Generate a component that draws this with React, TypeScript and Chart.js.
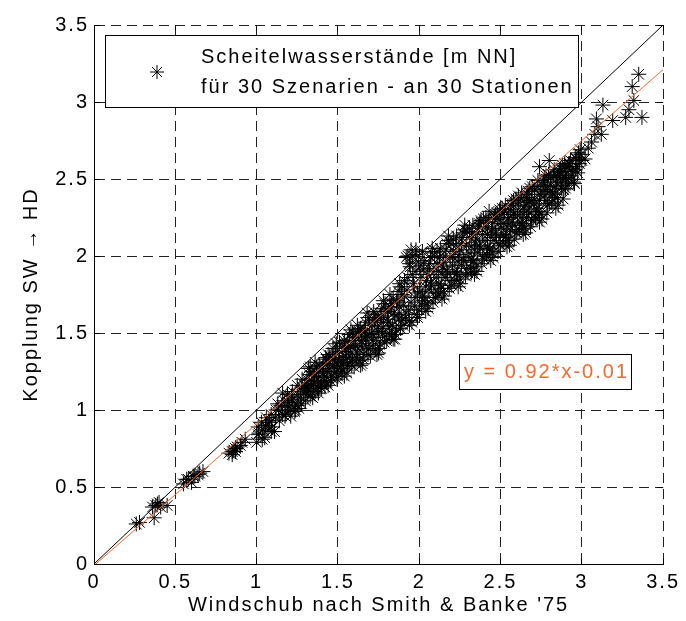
import React, { useEffect, useRef } from 'react';
import { Chart, registerables } from 'chart.js';

Chart.register(...registerables);

const FONT = '"Liberation Sans", Arial, Helvetica, sans-serif';
const ORANGE = '#f26a30';

// x: Windschub nach Smith & Banke '75, y: Kopplung SW -> HD
const windschub = [
  0.26, 0.28, 0.36, 0.37, 0.38, 0.39, 0.40, 0.41, 0.45,
  0.55, 0.57, 0.58, 0.60, 0.61, 0.62, 0.64, 0.65, 0.67,
  0.83, 0.85, 0.85, 0.86, 0.87, 0.87, 0.88, 0.90, 0.91, 0.93,
  1.00, 1.01, 1.01, 1.03, 1.04, 1.05, 1.06, 1.07, 1.08, 1.09, 1.09,
  1.11, 1.12, 1.13, 1.14, 1.16, 1.16, 1.17, 1.18, 1.19, 1.19,
  1.20, 1.21, 1.22, 1.23, 1.24, 1.25, 1.26, 1.27, 1.28, 1.28, 1.29, 1.22, 1.25,
  1.015, 1.035, 1.055, 1.075, 1.095, 1.115, 1.135, 1.155, 1.175, 1.195, 1.215, 1.235, 1.255, 1.275, 1.295,
  1.30, 1.31, 1.32, 1.33, 1.34, 1.35, 1.36, 1.37, 1.38, 1.39, 1.31, 1.34, 1.37, 1.33, 1.36, 1.39,
  1.305, 1.315, 1.325, 1.335, 1.345, 1.355, 1.365, 1.375, 1.385, 1.395, 1.32, 1.38,
  1.40, 1.41, 1.42, 1.43, 1.44, 1.45, 1.46, 1.47, 1.48, 1.49, 1.41, 1.43, 1.45, 1.47, 1.49, 1.44,
  1.405, 1.415, 1.425, 1.435, 1.445, 1.455, 1.465, 1.475, 1.485, 1.495, 1.42, 1.48,
  1.50, 1.51, 1.52, 1.53, 1.54, 1.55, 1.56, 1.57, 1.58, 1.59, 1.51, 1.53, 1.55, 1.57, 1.59, 1.52, 1.56,
  1.505, 1.515, 1.525, 1.535, 1.545, 1.555, 1.565, 1.575, 1.585, 1.595, 1.54, 1.58,
  1.60, 1.61, 1.62, 1.63, 1.64, 1.65, 1.66, 1.67, 1.68, 1.69, 1.61, 1.63, 1.65, 1.67, 1.69, 1.62, 1.66,
  1.605, 1.615, 1.625, 1.635, 1.645, 1.655, 1.665, 1.675, 1.685, 1.695, 1.64, 1.68,
  1.70, 1.71, 1.72, 1.73, 1.74, 1.75, 1.76, 1.77, 1.78, 1.79, 1.71, 1.73, 1.75, 1.77, 1.79, 1.72, 1.76,
  1.705, 1.715, 1.725, 1.735, 1.745, 1.755, 1.765, 1.775, 1.785, 1.795, 1.74, 1.78,
  1.80, 1.81, 1.82, 1.83, 1.84, 1.85, 1.86, 1.87, 1.88, 1.89, 1.81, 1.83, 1.85, 1.87, 1.89, 1.82, 1.86,
  1.805, 1.815, 1.825, 1.835, 1.845, 1.855, 1.865, 1.875, 1.885, 1.895, 1.84, 1.88,
  1.90, 1.91, 1.92, 1.93, 1.94, 1.95, 1.96, 1.97, 1.98, 1.99, 1.91, 1.93, 1.95, 1.97, 1.99, 1.92, 1.96, 1.94, 1.98,
  1.905, 1.915, 1.925, 1.935, 1.945, 1.955, 1.965, 1.975, 1.985, 1.995, 1.94, 1.98,
  2.00, 2.01, 2.02, 2.03, 2.04, 2.05, 2.06, 2.07, 2.08, 2.09, 2.01, 2.03, 2.05, 2.07, 2.09, 2.02, 2.06,
  2.005, 2.015, 2.025, 2.035, 2.045, 2.055, 2.065, 2.075, 2.085, 2.095, 2.04, 2.08,
  2.10, 2.11, 2.12, 2.13, 2.14, 2.15, 2.16, 2.17, 2.18, 2.19, 2.11, 2.13, 2.15, 2.17, 2.19, 2.12, 2.16,
  2.105, 2.115, 2.125, 2.135, 2.145, 2.155, 2.165, 2.175, 2.185, 2.195, 2.14, 2.18,
  2.20, 2.21, 2.22, 2.23, 2.24, 2.25, 2.26, 2.27, 2.28, 2.29, 2.21, 2.23, 2.25, 2.27, 2.29, 2.22, 2.26,
  2.205, 2.215, 2.225, 2.235, 2.245, 2.255, 2.265, 2.275, 2.285, 2.295, 2.24, 2.28,
  2.30, 2.31, 2.32, 2.33, 2.34, 2.35, 2.36, 2.37, 2.38, 2.39, 2.31, 2.33, 2.35, 2.37, 2.39, 2.32, 2.36, 2.32,
  2.305, 2.315, 2.325, 2.335, 2.345, 2.355, 2.365, 2.375, 2.385, 2.395, 2.34, 2.38,
  2.40, 2.41, 2.42, 2.43, 2.44, 2.45, 2.46, 2.47, 2.48, 2.49, 2.41, 2.43, 2.45, 2.47, 2.49, 2.42, 2.46,
  2.405, 2.415, 2.425, 2.435, 2.445, 2.455, 2.465, 2.475, 2.485, 2.495, 2.44, 2.48,
  2.50, 2.51, 2.52, 2.53, 2.54, 2.55, 2.56, 2.57, 2.58, 2.59, 2.51, 2.53, 2.55, 2.57, 2.59, 2.52, 2.56,
  2.505, 2.515, 2.525, 2.535, 2.545, 2.555, 2.565, 2.575, 2.585, 2.595, 2.54, 2.58,
  2.60, 2.61, 2.62, 2.63, 2.64, 2.65, 2.66, 2.67, 2.68, 2.69, 2.61, 2.63, 2.65, 2.67, 2.69, 2.62, 2.66,
  2.605, 2.615, 2.625, 2.635, 2.645, 2.655, 2.665, 2.675, 2.685, 2.695, 2.64, 2.68,
  2.70, 2.71, 2.72, 2.73, 2.74, 2.75, 2.76, 2.77, 2.78, 2.79, 2.71, 2.73, 2.75, 2.77, 2.79, 2.74, 2.80,
  2.705, 2.715, 2.725, 2.735, 2.745, 2.755, 2.765, 2.775, 2.785, 2.795, 2.74, 2.78,
  2.80, 2.81, 2.82, 2.83, 2.84, 2.85, 2.86, 2.87, 2.88, 2.89, 2.81, 2.83, 2.85, 2.87, 2.89, 2.90,
  2.805, 2.815, 2.825, 2.835, 2.845, 2.855, 2.865, 2.875, 2.885, 2.895, 2.84, 2.88,
  2.90, 2.91, 2.92, 2.93, 2.94, 2.95, 2.96, 2.97, 2.98, 2.99, 2.92, 2.96, 3.00,
  2.905, 2.915, 2.925, 2.935, 2.945, 2.955, 2.965, 2.975, 2.985, 2.995,
  3.02, 3.04, 3.06, 3.08, 3.12, 3.09, 3.13, 3.19, 3.27, 3.29, 3.32, 3.31, 3.35, 3.37, 3.10,
];

const kopplung = [
  0.26, 0.27, 0.37, 0.30, 0.38, 0.39, 0.40, 0.37, 0.38,
  0.52, 0.55, 0.55, 0.53, 0.57, 0.57, 0.58, 0.59, 0.60,
  0.72, 0.73, 0.71, 0.74, 0.75, 0.73, 0.76, 0.77, 0.79, 0.81,
  0.79, 0.89, 0.84, 0.92, 0.87, 0.82, 0.95, 0.87, 0.92, 0.86, 0.97,
  0.86, 1.00, 1.04, 0.93, 1.11, 0.97, 1.06, 0.98, 1.02, 1.10,
  1.02, 0.96, 1.12, 1.05, 1.00, 1.16, 1.01, 1.08, 1.15, 1.20, 1.11, 1.07, 1.03,
  0.85, 0.81, 0.90, 0.93, 0.89, 0.95, 1.00, 1.03, 0.96, 1.05, 1.09, 0.99, 1.10, 1.04, 1.16,
  1.06, 1.20, 1.13, 1.09, 1.25, 1.17, 1.12, 1.28, 1.21, 1.15, 1.15, 1.19, 1.24, 1.28, 1.31, 1.26,
  1.14, 1.10, 1.23, 1.16, 1.08, 1.22, 1.19, 1.14, 1.29, 1.18, 1.27, 1.11,
  1.14, 1.30, 1.22, 1.18, 1.36, 1.27, 1.21, 1.40, 1.32, 1.25, 1.24, 1.33, 1.35, 1.29, 1.43, 1.16,
  1.27, 1.19, 1.34, 1.25, 1.30, 1.19, 1.33, 1.24, 1.37, 1.20, 1.15, 1.28,
  1.22, 1.38, 1.30, 1.26, 1.45, 1.35, 1.29, 1.49, 1.41, 1.33, 1.44, 1.34, 1.40, 1.31, 1.50, 1.24, 1.45,
  1.33, 1.27, 1.41, 1.31, 1.38, 1.24, 1.40, 1.36, 1.29, 1.45, 1.22, 1.52,
  1.28, 1.47, 1.37, 1.32, 1.53, 1.43, 1.36, 1.57, 1.48, 1.40, 1.41, 1.51, 1.30, 1.46, 1.60, 1.55, 1.50,
  1.42, 1.34, 1.50, 1.39, 1.45, 1.33, 1.52, 1.41, 1.36, 1.55, 1.29, 1.63,
  1.35, 1.55, 1.45, 1.39, 1.62, 1.51, 1.43, 1.66, 1.57, 1.48, 1.49, 1.59, 1.37, 1.53, 1.69, 1.64, 1.60,
  1.50, 1.42, 1.58, 1.47, 1.54, 1.40, 1.61, 1.50, 1.44, 1.65, 1.36, 1.71,
  1.45, 1.64, 1.54, 1.48, 1.72, 1.61, 1.52, 1.77, 1.67, 1.58, 1.57, 1.69, 1.46, 1.62, 1.80, 1.75, 1.70,
  1.59, 1.50, 1.67, 1.55, 1.63, 1.49, 1.71, 1.59, 1.53, 1.75, 1.46, 1.82,
  1.55, 1.74, 1.63, 1.86, 1.95, 1.70, 2.00, 1.80, 1.90, 1.60, 1.84, 2.00, 2.04, 1.67, 1.76, 1.99, 1.88, 1.58, 2.04,
  1.68, 1.60, 1.78, 1.65, 1.93, 1.57, 1.82, 1.73, 1.62, 1.96, 1.55, 2.01,
  1.65, 1.86, 1.74, 1.97, 1.80, 1.69, 1.92, 1.83, 2.02, 1.76, 1.94, 1.71, 1.88, 1.99, 1.90, 2.03, 1.78,
  1.77, 1.68, 1.91, 1.73, 1.84, 1.66, 1.95, 1.81, 1.70, 2.00, 1.64, 2.05,
  1.73, 1.95, 1.82, 2.05, 1.88, 1.77, 2.00, 1.91, 2.10, 1.84, 2.03, 1.79, 1.96, 2.08, 1.99, 1.90, 1.86,
  1.86, 1.76, 1.99, 1.81, 1.93, 1.74, 2.04, 1.89, 1.79, 2.08, 1.72, 2.13,
  1.81, 2.03, 1.90, 2.13, 1.96, 1.85, 2.08, 1.99, 2.17, 1.92, 2.11, 1.88, 2.04, 2.15, 2.07, 1.98, 1.94,
  1.94, 1.84, 2.07, 1.89, 2.01, 1.82, 2.12, 1.97, 1.87, 2.16, 1.80, 2.20,
  1.89, 2.12, 1.98, 2.20, 2.04, 1.93, 2.16, 2.07, 2.23, 2.00, 2.18, 1.96, 2.11, 2.21, 2.14, 2.06, 2.02, 1.89,
  2.02, 1.92, 2.15, 1.97, 2.09, 1.90, 2.19, 2.05, 1.95, 2.24, 1.88, 2.22,
  1.98, 2.19, 2.06, 2.29, 2.12, 2.02, 2.24, 2.15, 2.28, 2.08, 2.25, 2.04, 2.18, 2.27, 2.21, 2.14, 2.10,
  2.10, 2.01, 2.22, 2.05, 2.17, 1.99, 2.26, 2.13, 2.03, 2.30, 1.97, 2.24,
  2.07, 2.27, 2.14, 2.33, 2.19, 2.10, 2.30, 2.22, 2.36, 2.16, 2.31, 2.12, 2.25, 2.34, 2.28, 2.21, 2.17,
  2.18, 2.09, 2.29, 2.13, 2.24, 2.07, 2.33, 2.20, 2.11, 2.37, 2.06, 2.27,
  2.15, 2.35, 2.22, 2.41, 2.27, 2.18, 2.38, 2.30, 2.44, 2.24, 2.39, 2.20, 2.33, 2.42, 2.36, 2.29, 2.25,
  2.26, 2.17, 2.37, 2.21, 2.32, 2.15, 2.40, 2.28, 2.19, 2.45, 2.14, 2.35,
  2.23, 2.43, 2.31, 2.49, 2.36, 2.27, 2.46, 2.39, 2.52, 2.33, 2.37, 2.29, 2.42, 2.50, 2.45, 2.58, 2.62,
  2.34, 2.25, 2.45, 2.29, 2.40, 2.24, 2.48, 2.36, 2.28, 2.53, 2.22, 2.43,
  2.34, 2.51, 2.41, 2.56, 2.45, 2.38, 2.54, 2.48, 2.59, 2.43, 2.46, 2.40, 2.52, 2.57, 2.55, 2.51,
  2.42, 2.35, 2.52, 2.38, 2.48, 2.33, 2.55, 2.44, 2.37, 2.60, 2.31, 2.50,
  2.44, 2.58, 2.50, 2.62, 2.55, 2.48, 2.64, 2.58, 2.67, 2.69, 2.60, 2.56, 2.62,
  2.50, 2.46, 2.60, 2.52, 2.57, 2.47, 2.63, 2.54, 2.60, 2.66,
  2.63, 2.70, 2.74, 2.79, 2.79, 2.89, 2.98, 2.88, 2.90, 2.95, 3.01, 3.10, 3.18, 2.90, 2.84,
];

const axisValues = [0, 0.5, 1, 1.5, 2, 2.5, 3, 3.5];
const tickLabels = ['0', '0.5', '1', '1.5', '2', '2.5', '3', '3.5'];
const fitSlope = 0.92;
const fitIntercept = -0.01;
const legendLines = ['Scheitelwasserstände [m NN]', 'für 30 Szenarien - an 30 Stationen'];
const fitLabel = 'y = 0.92*x-0.01';
const xTitle = "Windschub nach Smith & Banke '75";
const yTitle = 'Kopplung SW \u2192 HD';

function drawAsterisk(ctx: CanvasRenderingContext2D, x: number, y: number, r: number) {
  const d = r * Math.SQRT1_2;
  ctx.beginPath();
  ctx.moveTo(x - r, y); ctx.lineTo(x + r, y);
  ctx.moveTo(x, y - r); ctx.lineTo(x, y + r);
  ctx.moveTo(x - d, y - d); ctx.lineTo(x + d, y + d);
  ctx.moveTo(x - d, y + d); ctx.lineTo(x + d, y - d);
  ctx.stroke();
}

const decorations = {
  id: 'decorations',
  beforeUpdate(chart: any) {
    chart.ctx.letterSpacing = '2px';
  },
  beforeDraw(chart: any) {
    chart.ctx.letterSpacing = '2px';
  },
  afterDraw(chart: any) {
    const { ctx, chartArea: a, scales } = chart;
    ctx.save();
    ctx.setLineDash([]);
    ctx.strokeStyle = '#000';
    ctx.lineWidth = 1;
    // inner tick marks on all four sides
    axisValues.forEach((v) => {
      const px = Math.round(scales.x.getPixelForValue(v) - 0.5) + 0.5;
      const py = Math.round(scales.y.getPixelForValue(v) - 0.5) + 0.5;
      ctx.beginPath();
      ctx.moveTo(px, a.bottom); ctx.lineTo(px, a.bottom - 6);
      ctx.moveTo(px, a.top); ctx.lineTo(px, a.top + 6);
      ctx.moveTo(a.left, py); ctx.lineTo(a.left + 6, py);
      ctx.moveTo(a.right, py); ctx.lineTo(a.right - 6, py);
      ctx.stroke();
    });

    ctx.font = `20px ${FONT}`;
    ctx.letterSpacing = '2px';
    ctx.textBaseline = 'middle';

    // legend box
    const lx = Math.round(a.left + 11) + 0.5;
    const ly = Math.round(a.top + 10) + 0.5;
    ctx.fillStyle = '#fff';
    ctx.fillRect(lx, ly, 473, 72);
    ctx.strokeRect(lx, ly, 473, 72);
    drawAsterisk(ctx, a.left + 63, a.top + 47, 7);
    ctx.fillStyle = '#000';
    ctx.textAlign = 'left';
    ctx.fillText(legendLines[0], a.left + 107, a.top + 32);
    ctx.fillText(legendLines[1], a.left + 107, a.top + 62);

    // regression label box
    const bx = 459.5;
    const by = 354.5;
    ctx.fillStyle = '#fff';
    ctx.fillRect(bx, by, 172, 35);
    ctx.strokeRect(bx, by, 172, 35);
    ctx.fillStyle = ORANGE;
    ctx.textAlign = 'center';
    ctx.fillText(fitLabel, bx + 87, by + 18);
    ctx.restore();
  },
};

export default function App() {
  const canvasRef = useRef<HTMLCanvasElement | null>(null);

  useEffect(() => {
    const canvas = canvasRef.current;
    if (!canvas) return;
    const points = windschub.map((x, i) => ({ x, y: kopplung[i] }));
    const fitLine = [
      { x: 0, y: fitIntercept },
      { x: 3.5, y: fitSlope * 3.5 + fitIntercept },
    ];
    const diagonal = [
      { x: 0, y: 0 },
      { x: 3.5, y: 3.5 },
    ];
    const chart = new Chart(canvas, {
      type: 'scatter',
      data: {
        datasets: [
          {
            data: fitLine,
            showLine: true,
            borderColor: ORANGE,
            borderWidth: 1,
            pointRadius: 0,
            order: 0,
          },
          {
            data: diagonal,
            showLine: true,
            borderColor: '#000',
            borderWidth: 1,
            pointRadius: 0,
            order: 1,
          },
          {
            data: points,
            showLine: false,
            pointStyle: 'star',
            pointRadius: 7.5,
            pointBorderWidth: 1,
            borderColor: '#000',
            backgroundColor: 'rgba(0,0,0,0)',
            order: 2,
          },
        ],
      } as any,
      options: {
        responsive: false,
        animation: false,
        events: [],
        layout: { padding: { top: 25, right: 20, left: 0, bottom: 0 } },
        plugins: {
          legend: { display: false },
          tooltip: { enabled: false },
        },
        scales: {
          x: {
            type: 'linear',
            min: 0,
            max: 3.5,
            afterFit: (scale: any) => { scale.height = 57; },
            ticks: {
              stepSize: 0.5,
              padding: 6,
              color: '#000',
              font: { family: FONT, size: 20 },
              maxRotation: 0,
              callback: (v: any) => {
                const i = axisValues.indexOf(Number(v));
                return i >= 0 ? tickLabels[i] : '';
              },
            },
            grid: { color: '#222', lineWidth: 1, drawTicks: false },
            border: { display: true, color: '#000', width: 1, dash: [10, 6] },
            title: {
              display: true,
              text: xTitle,
              color: '#000',
              font: { family: FONT, size: 20 },
              padding: { top: 0, bottom: 4 },
            },
          },
          y: {
            type: 'linear',
            min: 0,
            max: 3.5,
            afterFit: (scale: any) => { scale.width = 94; },
            ticks: {
              stepSize: 0.5,
              padding: 5,
              color: '#000',
              font: { family: FONT, size: 20 },
              callback: (v: any) => {
                const i = axisValues.indexOf(Number(v));
                return i >= 0 ? tickLabels[i] : '';
              },
            },
            grid: { color: '#222', lineWidth: 1, drawTicks: false },
            border: { display: true, color: '#000', width: 1, dash: [10, 6] },
            title: {
              display: true,
              text: yTitle,
              color: '#000',
              font: { family: FONT, size: 20 },
              padding: { top: 19, bottom: 0 },
            },
          },
        },
      } as any,
      plugins: [decorations as any],
    });
    return () => chart.destroy();
  }, []);

  return (
    <div style={{ position: 'absolute', left: 0, top: 0, width: 686, height: 621, background: '#fff' }}>
      <canvas ref={canvasRef} width={686} height={621} style={{ display: 'block', width: 686, height: 621 }} />
    </div>
  );
}
